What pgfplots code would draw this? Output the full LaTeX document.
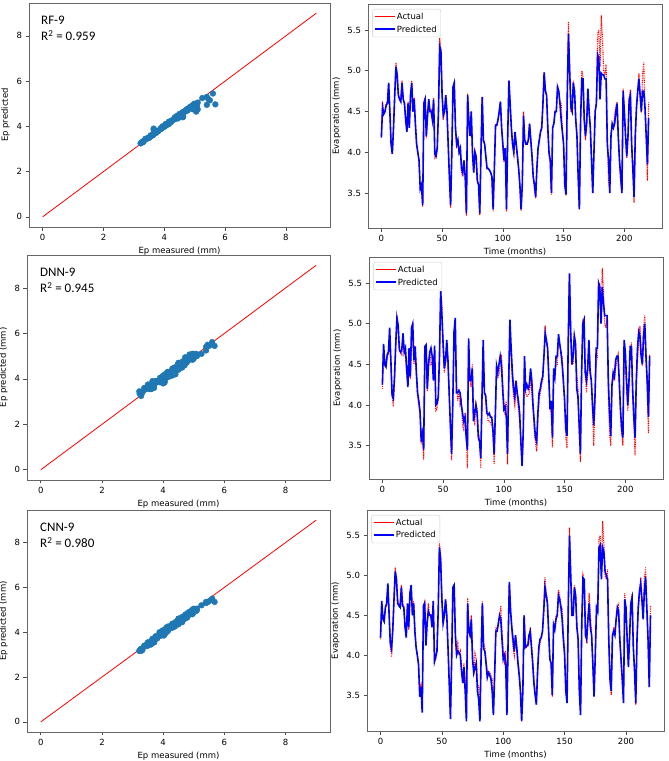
\documentclass[border=0pt]{standalone}
\usepackage{fontspec}
\setmainfont{DejaVu Sans}
\newfontfamily\carlito{Carlito}
\usepackage{pgfplots}
\usepackage{pgfplotstable}
\pgfplotsset{compat=1.18}
\definecolor{tabblue}{HTML}{1F77B4}
\definecolor{legred}{RGB}{254,0,0}
\definecolor{legblue}{RGB}{0,0,254}
\pgfplotstableread{
m A rf dnn cnn
0 4.20 4.18 4.25 4.22
1 4.62 4.55 4.75 4.68
2 4.47 4.47 4.50 4.45
3 4.50 4.50 4.47 4.42
4 4.60 4.58 4.62 4.60
5 4.62 4.60 4.65 4.65
6 4.85 4.85 4.95 4.90
7 4.50 4.50 4.55 4.52
8 4.12 4.10 4.12 4.15
9 3.98 3.98 4.08 4.08
10 4.30 4.30 4.35 4.32
11 4.70 4.70 4.75 4.70
12 5.10 5.05 5.07 5.05
13 4.95 4.95 4.98 4.95
14 4.70 4.70 4.68 4.65
15 4.65 4.65 4.65 4.62
16 4.62 4.62 4.68 4.60
17 4.88 4.85 4.88 4.85
18 4.65 4.65 4.65 4.62
19 4.60 4.60 4.70 4.60
20 4.40 4.40 4.45 4.35
21 4.25 4.25 4.22 4.22
22 4.62 4.60 4.70 4.65
23 4.32 4.30 4.35 4.35
24 4.72 4.70 4.95 4.78
25 4.88 4.85 5.00 4.88
26 4.50 4.50 4.55 4.50
27 4.68 4.65 4.72 4.65
28 4.35 4.35 4.40 4.30
29 4.10 4.10 4.15 4.10
30 4.00 4.00 4.05 4.00
31 3.90 3.90 3.92 3.88
32 3.55 3.55 3.55 3.48
33 3.62 3.60 3.65 3.60
34 3.33 3.35 3.45 3.28
35 4.62 4.60 4.72 4.62
36 4.67 4.65 4.74 4.65
37 4.17 4.20 4.20 4.12
38 4.45 4.45 4.50 4.40
39 4.65 4.65 4.65 4.55
40 4.50 4.50 4.70 4.50
41 4.52 4.50 4.60 4.50
42 4.40 4.40 4.30 4.35
43 4.67 4.65 4.73 4.68
44 3.93 3.98 4.00 3.92
45 3.95 3.95 4.02 3.98
46 4.07 4.05 4.10 4.05
47 4.50 4.50 4.60 4.55
48 5.40 5.30 5.40 5.35
49 5.25 5.25 5.10 5.20
50 4.75 4.70 4.75 4.70
51 4.40 4.45 4.45 4.40
52 4.50 4.50 4.55 4.50
53 4.70 4.70 4.80 4.70
54 4.50 4.50 4.55 4.50
55 4.10 4.10 4.15 4.10
56 3.70 3.70 3.75 3.65
57 3.32 3.35 3.40 3.20
58 4.00 4.00 4.05 3.95
59 4.80 4.80 4.90 4.85
60 4.86 4.85 5.07 4.88
61 4.30 4.30 4.15 4.25
62 4.05 4.10 4.15 4.00
63 4.15 4.15 4.18 4.05
64 4.00 4.00 4.15 4.03
65 4.05 4.05 4.00 4.00
66 3.75 3.80 3.90 3.82
67 3.70 3.75 3.80 3.65
68 3.90 3.90 3.85 3.85
69 3.70 3.70 3.60 3.55
70 3.22 3.25 3.45 3.17
71 4.72 4.70 4.82 4.65
72 4.35 4.40 4.30 4.30
73 4.22 4.20 4.30 4.25
74 4.50 4.50 4.45 4.45
75 4.00 4.00 3.80 3.95
76 3.75 3.75 3.90 3.78
77 4.02 4.00 4.00 3.85
78 3.95 3.95 3.90 3.90
79 3.65 3.65 3.60 3.55
80 3.60 3.60 3.55 3.45
81 3.23 3.25 3.35 3.17
82 4.00 4.00 4.10 4.00
83 4.68 4.68 4.80 4.65
84 4.15 4.15 4.15 4.08
85 4.10 4.10 4.12 4.05
86 3.95 3.95 3.90 3.90
87 3.80 3.80 3.88 3.72
88 3.80 3.80 3.90 3.78
89 3.78 3.78 3.85 3.75
90 3.75 3.75 3.85 3.70
91 3.70 3.70 3.70 3.55
92 3.27 3.30 3.40 3.25
93 3.80 3.80 3.90 3.75
94 4.35 4.33 4.48 4.30
95 4.33 4.33 4.40 4.30
96 4.38 4.40 4.50 4.40
97 4.48 4.50 4.60 4.50
98 4.62 4.62 4.50 4.45
99 4.30 4.30 4.20 4.20
100 4.05 4.10 3.95 3.95
101 3.88 3.90 3.98 4.00
102 4.05 4.05 3.85 3.90
103 3.27 3.30 3.40 3.25
104 4.20 4.20 4.30 4.20
105 4.88 4.88 5.05 4.92
106 4.60 4.60 4.70 4.55
107 4.30 4.30 4.40 4.35
108 4.10 4.10 4.20 4.20
109 4.00 4.00 4.10 4.05
110 4.25 4.25 4.30 4.25
111 4.10 4.10 4.15 4.10
112 3.95 3.95 4.05 3.90
113 3.80 3.80 3.90 3.75
114 3.60 3.60 3.55 3.55
115 3.28 3.30 3.25 3.17
116 3.60 3.60 3.70 3.55
117 4.50 4.45 4.60 4.50
118 4.15 4.15 4.20 4.10
119 4.10 4.10 4.25 4.12
120 4.12 4.10 4.20 4.12
121 4.15 4.15 4.25 4.25
122 4.35 4.35 4.45 4.30
123 4.15 4.15 4.30 4.10
124 3.95 3.95 4.00 3.90
125 3.70 3.70 3.80 3.65
126 3.55 3.60 3.60 3.50
127 3.43 3.45 3.55 3.38
128 3.80 3.80 3.90 3.80
129 4.05 4.05 4.15 4.10
130 4.15 4.15 4.20 4.20
131 4.25 4.25 4.30 4.22
132 4.30 4.30 4.35 4.30
133 4.60 4.60 4.60 4.55
134 4.98 4.98 4.88 4.85
135 4.78 4.75 4.80 4.75
136 4.70 4.70 4.70 4.65
137 4.30 4.30 4.35 4.30
138 3.95 4.00 3.95 3.95
139 3.90 3.90 4.05 3.90
140 3.48 3.50 3.60 3.50
141 4.30 4.30 4.45 4.38
142 4.38 4.35 4.35 4.32
143 4.50 4.50 4.60 4.45
144 4.50 4.50 4.60 4.50
145 4.82 4.80 4.87 4.75
146 4.75 4.75 4.75 4.70
147 4.62 4.60 4.65 4.60
148 4.60 4.40 4.50 4.45
149 4.25 4.25 4.30 4.20
150 4.10 4.10 4.05 4.00
151 3.60 3.60 3.70 3.55
152 3.47 3.48 3.62 3.40
153 4.70 4.70 4.80 4.60
154 5.60 5.45 5.62 5.50
155 5.00 5.00 4.90 5.00
156 4.50 4.55 4.50 4.50
157 4.50 4.50 4.60 4.50
158 4.88 4.85 4.85 4.85
159 4.75 4.75 4.75 4.75
160 4.40 4.40 4.20 4.35
161 4.20 4.20 4.10 4.20
162 3.70 3.70 3.75 3.55
163 3.30 3.30 3.40 3.25
164 4.40 4.40 4.40 4.40
165 5.00 4.90 5.00 4.97
166 4.92 4.90 5.05 4.95
167 4.38 4.40 4.40 4.25
168 4.15 4.20 4.30 4.20
169 4.40 4.35 4.45 4.45
170 4.78 4.78 4.80 4.65
171 4.50 4.50 4.40 4.35
172 4.30 4.30 4.30 4.25
173 3.90 3.90 4.00 3.90
174 3.50 3.50 3.75 3.48
175 4.00 4.00 4.10 4.00
176 4.50 4.50 4.70 4.60
177 4.60 4.60 4.70 4.55
178 5.45 5.20 5.50 5.35
179 5.50 5.15 5.45 5.38
180 5.05 4.65 5.00 4.95
181 5.68 4.97 5.45 5.35
182 5.40 4.95 5.25 5.30
183 5.00 4.95 5.10 5.05
184 4.95 4.90 5.10 5.00
185 5.08 4.90 5.10 4.95
186 4.15 4.10 4.30 4.20
187 3.65 3.90 3.90 3.70
188 3.50 3.50 3.62 3.55
189 4.20 4.20 4.25 4.25
190 4.35 4.35 4.40 4.30
191 4.30 4.30 4.35 4.25
192 4.45 4.35 4.55 4.45
193 4.55 4.50 4.60 4.60
194 4.62 4.60 4.60 4.55
195 4.20 4.20 4.30 4.20
196 3.90 3.90 3.95 3.95
197 3.65 3.70 3.70 3.70
198 3.50 3.50 3.60 3.40
199 4.78 4.75 4.80 4.70
200 4.50 4.50 4.65 4.60
201 4.20 4.20 4.30 4.20
202 3.93 3.95 4.00 3.85
203 4.20 4.20 4.30 4.25
204 4.65 4.65 4.72 4.65
205 4.77 4.70 4.72 4.72
206 4.10 4.10 4.20 4.10
207 3.80 3.80 3.85 3.80
208 3.38 3.45 3.60 3.40
209 4.20 4.20 4.30 4.20
210 4.55 4.55 4.70 4.60
211 4.75 4.75 4.90 4.80
212 4.97 4.90 4.85 4.90
213 4.70 4.70 4.60 4.70
214 4.48 4.50 4.50 4.45
215 4.95 4.75 4.85 4.80
216 5.10 4.75 5.00 4.98
217 4.55 4.55 4.60 4.60
218 4.20 4.20 4.30 4.20
219 3.65 3.85 3.85 3.60
220 4.62 4.42 4.60 4.50
}\ts

\pgfplotsset{
  base/.style={scale only axis, anchor=north west,
    axis line style={black!60, line width=0.8pt},
    tick style={black!70, line width=0.6pt},
    tick align=outside, major tick length=3.5pt,
    xtick pos=bottom, ytick pos=left,
    ticklabel style={font=\fontsize{8.5}{10}\selectfont},
    label style={font=\fontsize{8.5}{10}\selectfont},
    /pgf/number format/assume math mode=true},
  sc/.style={base, xmin=-0.45, xmax=9.45, ymin=-0.45, ymax=9.45,
    xtick={0,2,4,6,8}, ytick={0,2,4,6,8}, xlabel={Ep measured (mm)},
    ylabel={Ep predicted (mm)}},
  tsax/.style={base, xmin=-11, xmax=231, ymax=5.82,
    xtick={0,50,100,150,200}, ytick={3.5,4,4.5,5,5.5},
    yticklabel style={/pgf/number format/.cd, fixed, fixed zerofill, precision=1},
    xlabel={Time (months)}, ylabel={Evaporation (mm)},
    legend entries={Actual, Predicted},
    legend cell align=left,
    legend style={at={(0.015,0.978)}, anchor=north west,
      font=\fontsize{8.5}{10}\selectfont,
      draw=black!20, rounded corners=2pt, inner xsep=2pt, inner ysep=1.5pt,
      row sep=1pt}},
  act/.style={red, line width=1.1pt, dash pattern=on 0.9pt off 0.9pt,
    legend image code/.code={\node[inner sep=0pt, anchor=west] at (0pt,0pt) {\color{legred}\rule[-0.5pt]{20pt}{1pt}};}},
  prd/.style={blue, line width=1.6pt,
    legend image code/.code={\node[inner sep=0pt, anchor=west] at (0pt,0pt) {\color{legblue}\rule[-0.7pt]{20pt}{1.4pt}};}},
  pts/.style={only marks, mark=*, mark size=2.9pt, tabblue, mark options={draw=tabblue, fill=tabblue}},
  diag/.style={red, line width=0.8pt}
}
\tikzset{note/.style={anchor=north west, inner sep=0pt, align=left,
    font=\carlito\fontsize{13}{16}\selectfont}}

\begin{document}
\begin{tikzpicture}
\useasboundingbox (0,0) rectangle (669pt,-761pt);

% Row 1
\begin{axis}[sc, at={(29pt,-3pt)}, width=301pt, height=224pt, ylabel={Ep predicted}]
\addplot[pts] table[x=A, y=rf] {\ts};
\addplot[diag] coordinates {(0,0) (9,9)};
\node[note] at ([xshift=12pt,yshift=-13pt]rel axis cs:0,1) {RF-9\\R\textsuperscript{2} = 0.959};
\end{axis}
\begin{axis}[tsax, at={(368pt,-4pt)}, width=294pt, height=224pt, ymin=3.07]
\addplot[act] table[x=m, y=A] {\ts};
\addplot[prd] table[x=m, y=rf] {\ts};
\end{axis}

% Row 2
\begin{axis}[sc, at={(27pt,-255pt)}, width=303pt, height=225pt]
\addplot[pts] table[x=A, y=dnn] {\ts};
\addplot[diag] coordinates {(0,0) (9,9)};
\node[note] at ([xshift=13pt,yshift=-13pt]rel axis cs:0,1) {DNN-9\\R\textsuperscript{2} = 0.945};
\end{axis}
\begin{axis}[tsax, at={(369pt,-257pt)}, width=294pt, height=222pt, ymin=3.09]
\addplot[act] table[x=m, y=A] {\ts};
\addplot[prd] table[x=m, y=dnn] {\ts};
\end{axis}

% Row 3
\begin{axis}[sc, at={(27pt,-510pt)}, width=303pt, height=222pt]
\addplot[pts] table[x=A, y=cnn] {\ts};
\addplot[diag] coordinates {(0,0) (9,9)};
\node[note] at ([xshift=13pt,yshift=-13pt]rel axis cs:0,1) {CNN-9\\R\textsuperscript{2} = 0.980};
\end{axis}
\begin{axis}[tsax, at={(367pt,-510pt)}, width=297pt, height=221pt, ymin=3.05]
\addplot[act] table[x=m, y=A] {\ts};
\addplot[prd] table[x=m, y=cnn] {\ts};
\end{axis}
\end{tikzpicture}
\end{document}
